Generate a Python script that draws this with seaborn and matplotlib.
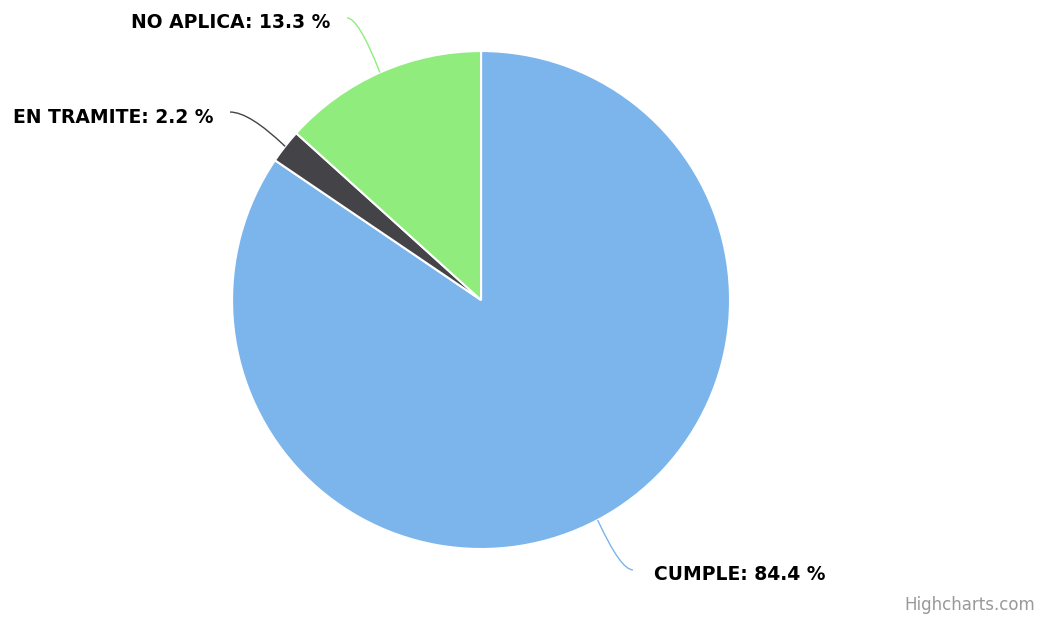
import numpy as np
import matplotlib
matplotlib.use("Agg")
import matplotlib.pyplot as plt
from matplotlib.path import Path
from matplotlib.patches import PathPatch
import seaborn as sns

categories = ["CUMPLE", "EN TRAMITE", "NO APLICA"]
values = [84.4, 2.2, 13.3]
colors = ["#7cb5ec", "#434348", "#90ed7d"]

# label anchor points (pie radius units)
label_pos = [(0.61, -1.084), (-1.008, 0.755), (-0.538, 1.133)]

sns.set_theme(style="white")
plt.rcParams['font.family'] = ['DejaVu Sans']

fig = plt.figure(figsize=(10.41, 6.17), dpi=100)
ax = fig.add_axes([0.2229, 0.1102, 0.4784, 0.8071])

wedges, _ = ax.pie(values, colors=sns.color_palette(colors), startangle=90,
                   counterclock=False, radius=1,
                   wedgeprops=dict(edgecolor="white", linewidth=1.5))
ax.set_xlim(-1, 1)
ax.set_ylim(-1, 1)
ax.set_aspect("equal")
ax.axis("off")

for w, cat, val, (lx, ly), col in zip(wedges, categories, values, label_pos, colors):
    ang = np.deg2rad((w.theta1 + w.theta2) / 2)
    ex, ey = np.cos(ang), np.sin(ang)
    cx = lx + 0.35 * (ex - lx)
    path = Path([(lx, ly), (cx, ly), (ex, ey)], [Path.MOVETO, Path.CURVE3, Path.CURVE3])
    ax.add_patch(PathPatch(path, facecolor="none", edgecolor=col, lw=1, clip_on=False))
    txt = f"{cat}: {val:.1f} %"
    if lx > 0:
        ax.text(lx + 0.085, ly - 0.02, txt, ha="left", va="center",
                fontsize=13.5, fontweight="bold", color="black", clip_on=False)
    else:
        ax.text(lx - 0.068, ly - 0.02, txt, ha="right", va="center",
                fontsize=13.5, fontweight="bold", color="black", clip_on=False)

fig.text(0.994, 0.005, "Highcharts.com", ha="right", va="bottom", fontsize=12, color="#999999")

fig.savefig("out.png", dpi=100)
